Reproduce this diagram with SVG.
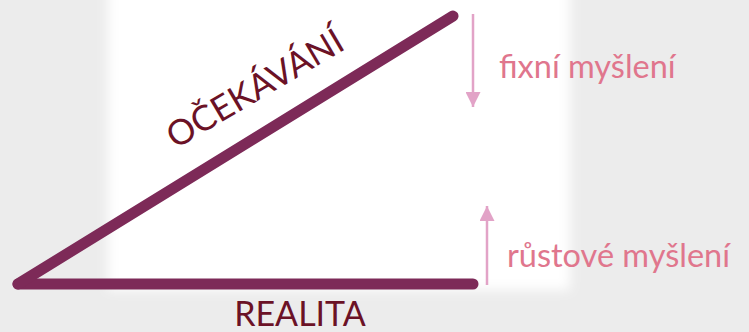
<svg xmlns="http://www.w3.org/2000/svg" width="749" height="332" viewBox="0 0 749 332">
<defs>
<filter id="soft" x="-20%" y="-20%" width="140%" height="140%"><feGaussianBlur stdDeviation="6"/></filter>
<marker id="ah" viewBox="0 0 15 15" refX="15" refY="7.5" markerWidth="15" markerHeight="15" markerUnits="userSpaceOnUse" orient="auto"><path d="M0,0 L15,7.5 L0,15 Z" fill="#e2a3c7"/></marker>
</defs>
<style>
.edge{stroke:#7d2a58;stroke-width:11;stroke-linecap:round;fill:none}
.arr{stroke:#e2a3c7;stroke-width:2.5;fill:none}
.lbl{font-family:Lato,"Open Sans","Liberation Sans",sans-serif;fill:#6b1226}
.pk{font-family:Lato,"Open Sans","Liberation Sans",sans-serif;fill:#e0768d;font-size:32.5px}
</style>
<rect width="749" height="332" fill="#ececec"/>
<rect x="108" y="-40" width="462" height="330" fill="#ffffff" filter="url(#soft)"/>
<g id="connectors">
<line class="edge" x1="18" y1="284" x2="473" y2="284"/>
<line class="edge" x1="18" y1="284" x2="453" y2="16"/>
<line class="arr" x1="473" y1="14" x2="473" y2="107" marker-end="url(#ah)"/>
<line class="arr" x1="487" y1="285" x2="487" y2="206" marker-end="url(#ah)"/>
</g>
<g id="ocekavani"><text class="lbl" font-size="35" text-anchor="middle" transform="translate(261,99) rotate(-30.5)">OČEKÁVÁNÍ</text></g>
<g id="realita"><text class="lbl" font-size="34" x="300" y="326" text-anchor="middle">REALITA</text></g>
<g id="fixni"><text class="pk" x="499" y="78">fixní myšlení</text></g>
<g id="rustove"><text class="pk" x="507" y="267">růstové myšlení</text></g>
</svg>
